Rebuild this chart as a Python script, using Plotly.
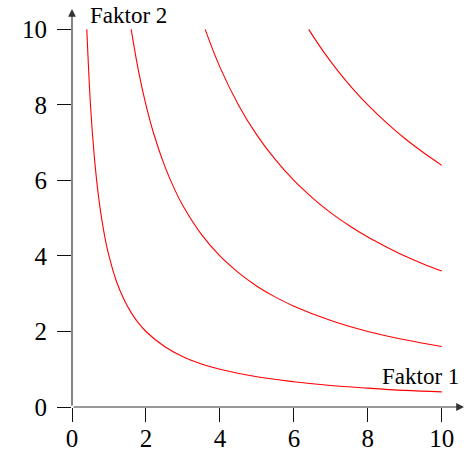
import plotly.graph_objects as go

# Isoquant curves
x1 = [0.4, 0.5, 0.6, 0.7, 0.8, 0.9, 1.0, 1.2, 1.4, 1.6, 1.8, 2.0, 2.5, 3.0, 3.5, 4.0, 5.0, 6.0, 7.0, 8.0, 9.0, 10.0]
y1 = [10.0, 8.0, 6.67, 5.71, 5.0, 4.44, 4.0, 3.33, 2.86, 2.5, 2.22, 2.0, 1.6, 1.33, 1.14, 1.0, 0.8, 0.67, 0.57, 0.5, 0.44, 0.4]
x2 = [1.6, 1.8, 2.0, 2.2, 2.5, 2.8, 3.0, 3.5, 4.0, 4.5, 5.0, 5.5, 6.0, 7.0, 8.0, 9.0, 10.0]
y2 = [10.0, 8.89, 8.0, 7.27, 6.4, 5.71, 5.33, 4.57, 4.0, 3.56, 3.2, 2.91, 2.67, 2.29, 2.0, 1.78, 1.6]
x3 = [3.6, 4.0, 4.5, 5.0, 5.5, 6.0, 6.5, 7.0, 7.5, 8.0, 8.5, 9.0, 9.5, 10.0]
y3 = [10.0, 9.0, 8.0, 7.2, 6.55, 6.0, 5.54, 5.14, 4.8, 4.5, 4.24, 4.0, 3.79, 3.6]
x4 = [6.4, 6.8, 7.2, 7.6, 8.0, 8.5, 9.0, 9.5, 10.0]
y4 = [10.0, 9.41, 8.89, 8.42, 8.0, 7.53, 7.11, 6.74, 6.4]

tick_vals = [0, 2, 4, 6, 8, 10]
tick_text = ["0", "2", "4", "6", "8", "10"]

fig = go.Figure()
for xs, ys in [(x1, y1), (x2, y2), (x3, y3), (x4, y4)]:
    fig.add_trace(go.Scatter(x=xs, y=ys, mode="lines", line=dict(color="#ff0000", width=1.1, shape="spline"),
                             showlegend=False, hoverinfo="skip", cliponaxis=False))

font = dict(family="'Liberation Serif', 'DejaVu Serif', serif", color="#000000")

axis_common = dict(showgrid=False, zeroline=False, showline=False, ticks="outside", ticklen=14,
                   tickwidth=1.2, tickcolor="#111111", tickvals=tick_vals, ticktext=tick_text,
                   tickfont=dict(size=25, **font), fixedrange=True, automargin=False)

fig.update_layout(
    width=467, height=451,
    margin=dict(l=72, r=3, t=9, b=44, autoexpand=False),
    plot_bgcolor="white", paper_bgcolor="white",
    xaxis=dict(range=[0, 10.6], ticklabelstandoff=-5, **axis_common),
    yaxis=dict(range=[0, 10.54], ticklabelstandoff=5, **axis_common),
)

# axis lines with arrows
fig.add_annotation(x=10.6, y=0, ax=0, ay=0, xref="x", yref="y", axref="x", ayref="y",
                   showarrow=True, arrowhead=2, arrowsize=1.3, arrowwidth=1.2, arrowcolor="#333333", text="")
fig.add_annotation(x=0, y=10.54, ax=0, ay=0, xref="x", yref="y", axref="x", ayref="y",
                   showarrow=True, arrowhead=2, arrowsize=1.3, arrowwidth=1.2, arrowcolor="#333333", text="")

fig.add_annotation(x=0.43, y=10.36, xref="x", yref="y", text="Faktor 2", showarrow=False,
                   xanchor="left", yanchor="middle", font=dict(size=23, **font))
fig.add_annotation(x=10.51, y=0.82, xref="x", yref="y", text="Faktor 1", showarrow=False,
                   xanchor="right", yanchor="middle", font=dict(size=23, **font))

fig.write_html("out.html", config={"displayModeBar": False},
               post_script="document.body.style.margin='0';document.body.style.overflow='hidden';")
